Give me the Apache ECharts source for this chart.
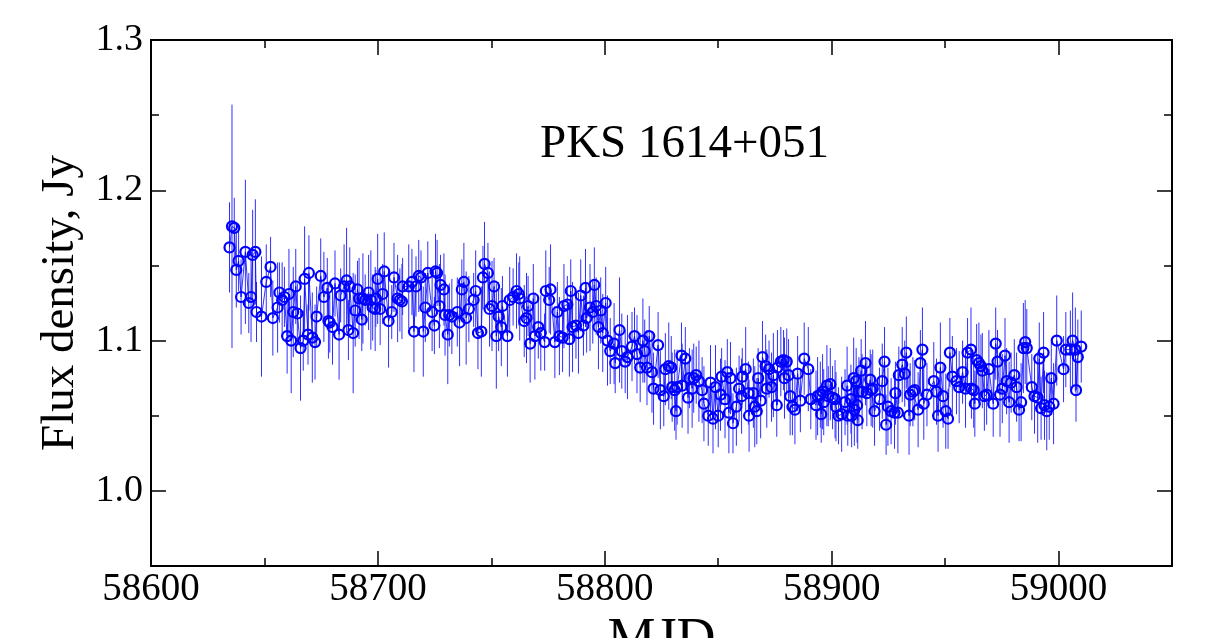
<!DOCTYPE html>
<html>
<head>
<meta charset="utf-8">
<script src="https://cdn.jsdelivr.net/npm/echarts@6/dist/echarts.min.js"></script>
<style>
html,body{margin:0;padding:0;background:#fff;}
#c{width:1214px;height:638px;}
</style>
</head>
<body>
<div id="c"></div>
<script>
const chartTitle = 'PKS 1614+051';
const xName = 'MJD';
const yName = 'Flux density, Jy';
const xMajorTicks = [58600, 58700, 58800, 58900, 59000];
const xMinorTicks = [58650, 58750, 58850, 58950, 59050];
const yMajorTicks = [1.0, 1.1, 1.2, 1.3];
const yMinorTicks = [1.05, 1.15, 1.25];
const xRange = [58600, 59050];
const yRange = [0.95, 1.3];

const mjd = [
58634.6,58635.7,58636.7,58637.6,58638.6,58639.7,58641.6,58643.1,58644.1,58644.8,
58646.0,58646.5,58648.7,58650.8,58652.7,58653.7,58655.8,58656.6,58657.8,58658.8,
58660.0,58660.8,58661.8,58662.7,58663.8,58664.5,58665.9,58667.1,58667.7,58669.2,
58669.6,58671.1,58672.3,58673.0,58674.8,58676.2,58677.7,58678.2,58678.8,58680.0,
58681.1,58682.9,58683.6,58685.1,58686.2,58687.0,58687.6,58689.1,58690.0,58691.0,
58691.7,58692.9,58693.4,58694.4,58695.9,58696.9,58697.7,58698.8,58699.1,58699.9,
58701.0,58702.1,58702.8,58704.7,58706.1,58707.1,58708.7,58709.7,58710.6,58710.9,
58713.6,58715.0,58715.9,58716.8,58718.0,58719.0,58720.0,58720.9,58722.0,58723.9,
58724.9,58725.4,58726.1,58727.1,58727.6,58729.1,58729.6,58730.8,58731.5,58732.6,
58735.0,58736.0,58737.0,58737.9,58738.9,58740.1,58742.2,58743.1,58744.1,58745.6,
58746.3,58747.0,58748.5,58749.2,58750.3,58751.2,58752.2,58753.2,58754.4,58754.9,
58757.1,58758.1,58759.6,58761.1,58762.1,58762.5,58764.5,58765.5,58766.2,58767.1,
58768.5,58769.2,58770.7,58771.8,58773.5,58774.0,58775.5,58776.1,58778.0,58779.1,
58780.0,58781.4,58782.0,58783.5,58784.4,58785.0,58785.8,58787.3,58788.4,58789.4,
58790.6,58791.5,58792.0,58793.5,58794.7,58795.4,58796.2,58797.2,58798.2,58799.1,
58800.4,58801.2,58802.4,58804.1,58804.6,58806.5,58807.5,58809.0,58810.0,58812.0,
58813.1,58814.2,58815.6,58816.8,58817.6,58818.6,58819.6,58820.8,58821.5,58823.5,
58824.5,58826.0,58826.7,58828.2,58829.3,58829.7,58830.8,58831.4,58831.9,58833.8,
58834.1,58835.5,58836.7,58837.3,58838.5,58839.2,58840.3,58841.5,58842.9,58843.7,
58845.6,58846.6,58847.7,58848.8,58850.0,58851.0,58851.5,58853.0,58854.0,58854.7,
58855.4,58856.5,58858.0,58859.2,58860.3,58860.6,58862.1,58863.3,58863.6,58865.5,
58866.1,58867.0,58867.6,58868.7,58869.5,58870.9,58871.4,58872.4,58873.5,58874.3,
58875.8,58876.1,58877.6,58878.8,58879.2,58880.2,58881.0,58881.7,58882.7,58883.8,
58885.0,58886.2,58887.9,58889.7,58890.8,58893.1,58893.8,58895.0,58895.4,58896.0,
58896.5,58897.9,58898.5,58899.4,58900.4,58901.5,58901.9,58903.0,58904.4,58905.9,
58906.8,58907.1,58908.5,58908.8,58909.7,58910.0,58910.8,58911.2,58911.5,58912.0,
58913.0,58913.4,58914.9,58915.5,58917.0,58917.4,58918.1,58918.9,58921.1,58922.3,
58923.3,58924.0,58924.8,58926.2,58927.7,58928.1,58929.2,58929.6,58931.1,58932.2,
58932.9,58934.1,58934.6,58935.8,58936.6,58938.1,58939.1,58940.0,58940.6,58942.0,
58945.0,58946.2,58946.9,58947.9,58949.1,58950.3,58951.3,58952.1,58953.2,58955.0,
58956.2,58957.7,58959.0,58959.9,58961.4,58961.6,58962.6,58963.1,58963.9,58964.9,
58965.8,58966.4,58967.3,58968.3,58969.3,58971.2,58972.3,58973.1,58974.2,58975.2,
58976.4,58977.1,58978.2,58979.1,58980.5,58981.5,58982.6,58983.5,58984.5,58985.3,
58986.0,58988.2,58989.4,58990.8,58991.5,58992.3,58993.4,58993.8,58994.8,58995.9,
58996.8,58997.8,58999.2,59002.2,59003.2,59005.2,59006.2,59007.4,59007.7,59008.5,
59010.0
];

const flux = [
1.162,1.176,1.175,1.147,1.153,1.129,1.159,1.125,1.129,1.157,
1.159,1.119,1.116,1.139,1.149,1.115,1.122,1.132,1.127,1.129,
1.103,1.131,1.100,1.119,1.136,1.118,1.095,1.100,1.141,1.104,
1.145,1.102,1.099,1.116,1.143,1.129,1.135,1.113,1.112,1.109,
1.138,1.104,1.130,1.136,1.140,1.107,1.136,1.105,1.120,1.134,
1.128,1.114,1.128,1.127,1.132,1.127,1.122,1.121,1.128,1.141,
1.121,1.131,1.146,1.113,1.119,1.142,1.128,1.127,1.126,1.136,
1.136,1.139,1.106,1.136,1.143,1.142,1.106,1.122,1.145,1.119,
1.110,1.146,1.145,1.123,1.137,1.134,1.117,1.104,1.117,1.116,
1.119,1.112,1.134,1.139,1.115,1.121,1.127,1.133,1.105,1.106,
1.142,1.151,1.145,1.121,1.123,1.136,1.103,1.116,1.109,1.123,
1.103,1.127,1.129,1.133,1.131,1.128,1.113,1.115,1.123,1.098,
1.128,1.103,1.109,1.105,1.099,1.133,1.127,1.134,1.099,1.119,
1.103,1.102,1.123,1.124,1.101,1.133,1.109,1.110,1.105,1.130,
1.110,1.135,1.115,1.122,1.119,1.137,1.123,1.109,1.120,1.105,
1.125,1.100,1.093,1.098,1.085,1.107,1.093,1.086,1.089,1.096,
1.103,1.091,1.082,1.100,1.093,1.082,1.103,1.079,1.068,1.097,
1.067,1.063,1.081,1.083,1.082,1.069,1.067,1.053,1.069,1.090,
1.070,1.088,1.062,1.075,1.068,1.075,1.077,1.073,1.067,1.058,
1.050,1.072,1.048,1.069,1.050,1.064,1.076,1.061,1.079,1.052,
1.075,1.045,1.056,1.068,1.063,1.076,1.081,1.065,1.050,1.065,
1.056,1.053,1.075,1.060,1.089,1.083,1.068,1.081,1.069,1.077,
1.057,1.082,1.086,1.087,1.075,1.086,1.077,1.063,1.056,1.054,
1.078,1.060,1.088,1.081,1.061,1.057,1.063,1.064,1.051,1.066,
1.059,1.070,1.063,1.071,1.062,1.061,1.056,1.050,1.051,1.059,
1.070,1.050,1.061,1.050,1.075,1.054,1.073,1.057,1.047,1.066,
1.080,1.066,1.085,1.065,1.074,1.067,1.068,1.053,1.061,1.073,
1.086,1.044,1.056,1.053,1.052,1.065,1.052,1.077,1.084,1.078,
1.092,1.050,1.064,1.066,1.067,1.054,1.085,1.094,1.058,1.064,
1.073,1.066,1.050,1.082,1.063,1.053,1.048,1.092,1.076,1.073,
1.069,1.079,1.068,1.092,1.094,1.068,1.067,1.058,1.087,1.085,
1.083,1.080,1.063,1.064,1.081,1.058,1.098,1.086,1.064,1.068,
1.090,1.073,1.059,1.072,1.077,1.069,1.054,1.059,1.095,1.099,
1.095,1.069,1.063,1.062,1.088,1.055,1.092,1.057,1.053,1.056,
1.075,1.058,1.100,1.081,1.094,1.094,1.100,1.094,1.067,1.089,
1.096
];

const fluxErr = [
0.030,0.081,0.020,0.025,0.020,0.025,0.048,0.020,0.030,0.030,
0.035,0.020,0.040,0.025,0.020,0.025,0.030,0.020,0.025,0.020,
0.025,0.030,0.035,0.030,0.025,0.020,0.035,0.020,0.035,0.020,
0.025,0.030,0.025,0.020,0.025,0.030,0.020,0.025,0.020,0.025,
0.022,0.030,0.018,0.028,0.035,0.020,0.026,0.040,0.024,0.019,
0.027,0.021,0.030,0.017,0.025,0.033,0.022,0.028,0.019,0.030,
0.024,0.020,0.026,0.031,0.018,0.023,0.029,0.021,0.025,0.019,
0.028,0.022,0.027,0.020,0.024,0.018,0.030,0.023,0.021,0.026,
0.019,0.025,0.022,0.028,0.020,0.024,0.027,0.033,0.021,0.025,
0.023,0.029,0.020,0.026,0.031,0.022,0.018,0.027,0.024,0.030,
0.021,0.028,0.020,0.025,0.030,0.019,0.035,0.023,0.026,0.020,
0.027,0.022,0.019,0.025,0.021,0.028,0.024,0.030,0.020,0.026,
0.023,0.029,0.021,0.025,0.019,0.027,0.022,0.030,0.024,0.020,
0.026,0.023,0.028,0.019,0.025,0.021,0.030,0.022,0.027,0.024,
0.020,0.026,0.023,0.029,0.021,0.025,0.019,0.028,0.022,0.026,
0.024,0.030,0.022,0.027,0.020,0.035,0.025,0.021,0.028,0.023,
0.019,0.026,0.023,0.028,0.021,0.025,0.020,0.027,0.024,0.022,
0.026,0.020,0.024,0.029,0.021,0.023,0.027,0.019,0.025,0.022,
0.028,0.021,0.024,0.020,0.026,0.023,0.019,0.027,0.022,0.025,
0.020,0.025,0.023,0.028,0.021,0.024,0.019,0.026,0.022,0.027,
0.024,0.020,0.026,0.022,0.025,0.019,0.028,0.021,0.024,0.023,
0.027,0.022,0.020,0.025,0.024,0.021,0.026,0.019,0.023,0.028,
0.021,0.025,0.023,0.020,0.027,0.022,0.024,0.026,0.019,0.023,
0.025,0.021,0.024,0.028,0.020,0.023,0.026,0.022,0.019,0.025,
0.022,0.027,0.020,0.024,0.021,0.026,0.023,0.019,0.025,0.022,
0.026,0.020,0.023,0.021,0.027,0.024,0.022,0.025,0.019,0.023,
0.021,0.025,0.028,0.022,0.020,0.024,0.026,0.023,0.021,0.025,
0.023,0.020,0.026,0.022,0.024,0.021,0.027,0.019,0.025,0.022,
0.024,0.026,0.021,0.023,0.020,0.025,0.022,0.028,0.024,0.021,
0.026,0.022,0.024,0.030,0.021,0.025,0.020,0.023,0.027,0.022,
0.024,0.021,0.026,0.023,0.028,0.020,0.025,0.022,0.024,0.027,
0.021,0.025,0.023,0.020,0.026,0.022,0.024,0.021,0.028,0.023,
0.025,0.022,0.027,0.020,0.024,0.023,0.021,0.026,0.030,0.028,
0.026,0.022,0.025,0.030,0.024,0.021,0.027,0.023,0.026,0.022,
0.024,0.027,0.030,0.022,0.025,0.026,0.032,0.028,0.021,0.025,
0.024
];

const FONT = '"Liberation Serif","Times New Roman",serif';
const BLUE = '#0000ff';

const points = mjd.map((m, i) => [m, flux[i]]);
const bars = mjd.map((m, i) => [m, flux[i] - fluxErr[i], flux[i] + fluxErr[i]]);

function xAx(pos, ticks, len, opts) {
  return Object.assign({
    type: 'value', position: pos, min: xRange[0], max: xRange[1], gridIndex: 0,
    axisLine: { show: true, onZero: false, lineStyle: { color: '#000', width: 2 } },
    axisTick: { show: true, inside: true, length: len, customValues: ticks, lineStyle: { color: '#000', width: 1.5 } },
    axisLabel: { show: false },
    splitLine: { show: false }
  }, opts || {});
}
function yAx(pos, ticks, len, opts) {
  return Object.assign({
    type: 'value', position: pos, min: yRange[0], max: yRange[1], gridIndex: 0,
    axisLine: { show: true, onZero: false, lineStyle: { color: '#000', width: 2 } },
    axisTick: { show: true, inside: true, length: len, customValues: ticks, lineStyle: { color: '#000', width: 1.5 } },
    axisLabel: { show: false },
    splitLine: { show: false }
  }, opts || {});
}

const chart = echarts.init(document.getElementById('c'), null, { renderer: 'canvas' });
chart.setOption({
  animation: false,
  backgroundColor: '#fff',
  grid: { left: 151, right: 42, top: 40, bottom: 72, containLabel: false, outerBoundsMode: 'none' },
  graphic: [{
    type: 'text', left: 540, top: 121,
    style: { text: chartTitle, font: '47px ' + FONT, fill: '#000' }
  }],
  xAxis: [
    xAx('bottom', xMajorTicks, 15, {
      axisLabel: { show: true, customValues: xMajorTicks, color: '#000', fontSize: 39, fontFamily: FONT, margin: 4,
        formatter: v => String(Math.round(v)) },
      name: xName, nameLocation: 'middle', nameGap: 29,
      nameTextStyle: { color: '#000', fontSize: 54, fontFamily: FONT }
    }),
    xAx('bottom', xMinorTicks, 8),
    xAx('top', xMajorTicks, 15),
    xAx('top', xMinorTicks, 8)
  ],
  yAxis: [
    yAx('left', yMajorTicks, 15, {
      axisLabel: { show: true, customValues: yMajorTicks, color: '#000', fontSize: 38, fontFamily: FONT, margin: 8,
        formatter: v => v.toFixed(1) },
      name: yName, nameLocation: 'middle', nameGap: 58, nameRotate: 90,
      nameTextStyle: { color: '#000', fontSize: 47, fontFamily: FONT }
    }),
    yAx('left', yMinorTicks, 8),
    yAx('right', yMajorTicks, 15),
    yAx('right', yMinorTicks, 8)
  ],
  series: [
    {
      type: 'custom', name: 'err', xAxisIndex: 0, yAxisIndex: 0, clip: true,
      data: bars, encode: { x: 0, y: [1, 2] },
      renderItem: function (params, api) {
        const x = api.value(0);
        const p1 = api.coord([x, api.value(1)]);
        const p2 = api.coord([x, api.value(2)]);
        return { type: 'line', shape: { x1: p1[0], y1: p1[1], x2: p2[0], y2: p2[1] },
          style: { stroke: '#3030ff', lineWidth: 1 } };
      },
      z: 2
    },
    {
      type: 'line', name: 'flux', xAxisIndex: 0, yAxisIndex: 0,
      data: points, symbol: 'circle', symbolSize: 10, showAllSymbol: true,
      lineStyle: { color: BLUE, width: 0.8 },
      itemStyle: { color: 'rgba(0,0,0,0)', borderColor: BLUE, borderWidth: 2.2 },
      z: 3
    }
  ]
});
</script>
</body>
</html>
